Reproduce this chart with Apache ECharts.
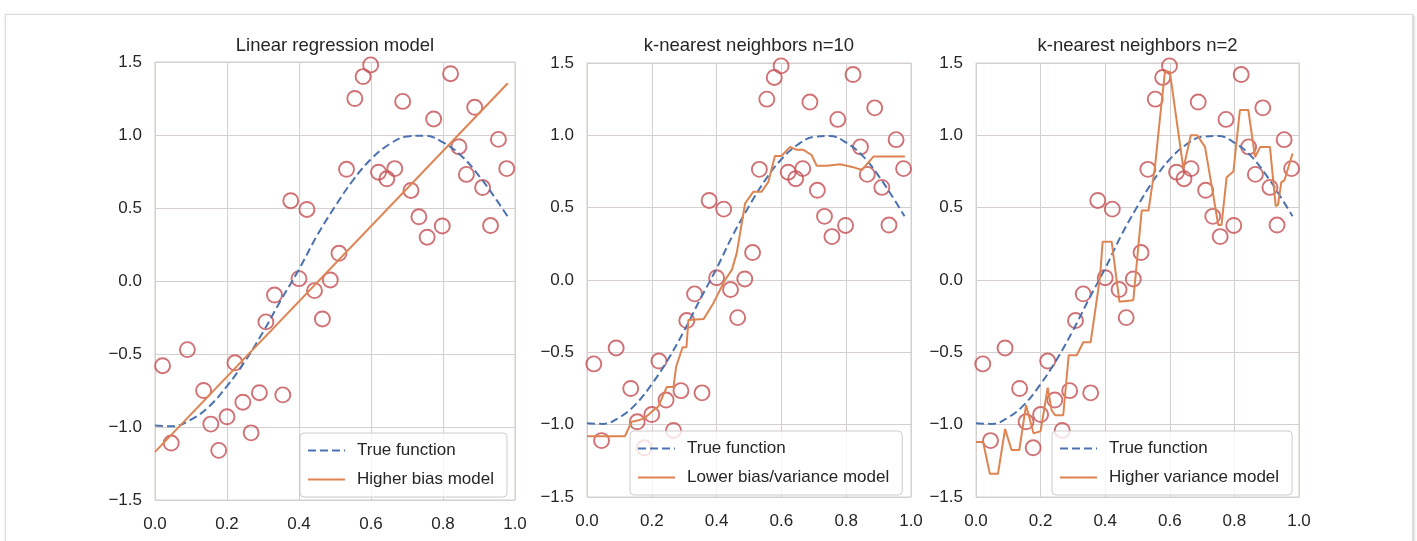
<!DOCTYPE html>
<html>
<head>
<meta charset="utf-8">
<script src="https://cdn.jsdelivr.net/npm/echarts@6/dist/echarts.min.js"></script>
<style>
  html, body { margin: 0; padding: 0; background: #ffffff; }
  #frame { position: absolute; left: 5px; top: 14px; width: 1406px; height: 600px;
           border: 1px solid #dedada; box-shadow: 1px 1px 3px rgba(0,0,0,0.22); background: #fff; }
  #chart { position: absolute; left: 0; top: 0; width: 1417px; height: 541px; }
</style>
</head>
<body>
<div id="frame"></div>
<div id="chart"></div>
<script>
// ---------------- data ----------------
const titles = ['Linear regression model', 'k-nearest neighbors n=10', 'k-nearest neighbors n=2'];
const modelNames = ['Higher bias model', 'Lower bias/variance model', 'Higher variance model'];
const trueName = 'True function';

const xTicks = [0.0, 0.2, 0.4, 0.6, 0.8, 1.0];
const yTicks = [-1.5, -1.0, -0.5, 0.0, 0.5, 1.0, 1.5];

// noisy samples (same in all three panels)
const sampleX = [0.021, 0.045, 0.090, 0.135, 0.155, 0.177, 0.200, 0.222, 0.244, 0.267,
                 0.290, 0.308, 0.332, 0.355, 0.377, 0.400, 0.422, 0.443, 0.465, 0.487,
                 0.511, 0.532, 0.555, 0.578, 0.599, 0.621, 0.644, 0.666, 0.688, 0.711,
                 0.733, 0.756, 0.774, 0.798, 0.821, 0.844, 0.865, 0.888, 0.910, 0.932,
                 0.954, 0.977];
const sampleY = [-0.58, -1.11, -0.47, -0.75, -0.98, -1.16, -0.93, -0.56, -0.83, -1.04,
                 -0.765, -0.28, -0.096, -0.78, 0.55, 0.016, 0.49, -0.066, -0.26, 0.007,
                 0.19, 0.765, 1.25, 1.40, 1.48, 0.745, 0.70, 0.77, 1.23, 0.62,
                 0.44, 0.30, 1.11, 0.377, 1.42, 0.92, 0.73, 1.19, 0.64, 0.38,
                 0.97, 0.77];

// true function (dashed)
const trueX = [0.0, 0.05, 0.1, 0.15, 0.2, 0.25, 0.3, 0.35, 0.4, 0.45, 0.5,
               0.55, 0.6, 0.65, 0.7, 0.75, 0.8, 0.85, 0.9, 0.95, 0.98];
const trueY = [-0.99, -0.995, -0.95, -0.86, -0.72, -0.55, -0.35, -0.13, 0.08, 0.31, 0.51,
               0.69, 0.835, 0.935, 0.99, 0.995, 0.95, 0.86, 0.72, 0.55, 0.44];

// linear regression fit
const linX = [0.0, 0.98];
const linY = [-1.17, 1.354];

// k-NN n=10 prediction
const knn10X = [0.0, 0.117, 0.138, 0.16, 0.18, 0.2, 0.22, 0.246, 0.267, 0.275, 0.295, 0.307,
                0.313, 0.36, 0.39, 0.426, 0.447, 0.462, 0.488, 0.513, 0.539, 0.56, 0.58,
                0.60, 0.627, 0.647, 0.668, 0.693, 0.709, 0.74, 0.781, 0.822, 0.848, 0.884, 0.981];
const knn10Y = [-1.08, -1.08, -0.98, -0.97, -0.95, -0.91, -0.875, -0.74, -0.74, -0.6, -0.465, -0.465,
                -0.276, -0.27, -0.16, 0.0, 0.07, 0.184, 0.53, 0.61, 0.61, 0.68, 0.857,
                0.857, 0.92, 0.90, 0.90, 0.864, 0.79, 0.79, 0.80, 0.78, 0.76, 0.853, 0.853];

// k-NN n=2 prediction
const knn2X = [0.0, 0.022, 0.043, 0.068, 0.09, 0.11, 0.134, 0.155, 0.178, 0.2, 0.222, 0.234,
               0.245, 0.27, 0.287, 0.312, 0.332, 0.355, 0.384, 0.392, 0.42, 0.444, 0.487,
               0.513, 0.534, 0.554, 0.57, 0.585, 0.6, 0.642, 0.665, 0.685, 0.709, 0.73,
               0.75, 0.76, 0.776, 0.797, 0.817, 0.843, 0.864, 0.88, 0.91, 0.928, 0.935,
               0.945, 0.955, 0.98];
const knn2Y = [-1.12, -1.12, -1.34, -1.34, -1.03, -1.175, -1.175, -0.865, -1.06, -1.045, -0.745, -0.9,
               -0.935, -0.935, -0.52, -0.52, -0.43, -0.43, 0.02, 0.265, 0.265, -0.15, -0.14,
               0.48, 0.48, 0.78, 1.13, 1.44, 1.44, 0.77, 1.0, 1.0, 0.92, 0.645,
               0.38, 0.38, 0.71, 0.75, 1.175, 1.175, 0.85, 0.92, 0.92, 0.51, 0.52,
               0.675, 0.69, 0.875];

// ---------------- build ----------------
const zip = (xs, ys) => xs.map((x, i) => [x, ys[i]]);
const modelLines = [zip(linX, linY), zip(knn10X, knn10Y), zip(knn2X, knn2Y)];

const FONT = '"Liberation Sans", Arial, sans-serif';
const TXT = '#262626';
const GRIDC = '#d5cfcf';
const BLUE = '#4c72b0', ORANGE = '#dd8452', RED = '#c44e52';

const grids = [
  { left: 155, top: 62, width: 360, height: 438 },
  { left: 587, top: 63, width: 324, height: 434 },
  { left: 976, top: 63, width: 323, height: 434 }
];
const legendPos = [
  { left: 300, top: 433 },
  { left: 630, top: 431 },
  { left: 1052, top: 431 }
];

const fmt = v => (v < 0 ? '\u2212' : '') + Math.abs(v).toFixed(1);

const option = {
  animation: false,
  backgroundColor: 'transparent',
  grid: grids.map(g => Object.assign({ show: true, borderColor: GRIDC, borderWidth: 1, backgroundColor: 'transparent' }, g)),
  xAxis: grids.map((g, i) => ({
    gridIndex: i, type: 'value',
    min: xTicks[0], max: xTicks[xTicks.length - 1], interval: 0.2,
    axisLine: { show: false }, axisTick: { show: false },
    splitLine: { show: true, lineStyle: { color: GRIDC, width: 1 } },
    axisLabel: { fontSize: 17, fontFamily: FONT, color: TXT, margin: 16, formatter: fmt }
  })),
  yAxis: grids.map((g, i) => ({
    gridIndex: i, type: 'value',
    min: yTicks[0], max: yTicks[yTicks.length - 1], interval: 0.5,
    axisLine: { show: false }, axisTick: { show: false },
    splitLine: { show: true, lineStyle: { color: GRIDC, width: 1 } },
    axisLabel: { fontSize: 17, fontFamily: FONT, color: TXT, margin: 13, formatter: fmt }
  })),
  legend: legendPos.map((p, i) => ({
    left: p.left, top: p.top, orient: 'vertical',
    data: [trueName, modelNames[i]],
    itemWidth: 37, itemHeight: 14, itemGap: 12,
    padding: [9, 13, 9, 7],
    backgroundColor: 'rgba(255,255,255,0.8)',
    borderColor: '#cfcaca', borderWidth: 1, borderRadius: 4,
    itemStyle: { opacity: 0 },
    textStyle: { fontSize: 17, fontFamily: FONT, color: TXT, padding: [0, 0, 0, 7] },
    selectedMode: false
  })),
  graphic: titles.map((t, i) => ({
    type: 'text',
    x: grids[i].left + grids[i].width / 2,
    y: 46,
    style: {
      text: t, fontSize: 18.5, fontFamily: FONT, fill: TXT,
      textAlign: 'center', textVerticalAlign: 'middle', align: 'center', verticalAlign: 'middle'
    }
  })),
  series: []
};

for (let i = 0; i < 3; i++) {
  option.series.push({
    name: trueName, type: 'line', xAxisIndex: i, yAxisIndex: i,
    data: zip(trueX, trueY), smooth: 0.4, symbol: 'none',
    lineStyle: { color: BLUE, width: 2, type: [8, 4] }, itemStyle: { color: BLUE }
  });
  option.series.push({
    name: modelNames[i], type: 'line', xAxisIndex: i, yAxisIndex: i,
    data: modelLines[i], symbol: 'none',
    lineStyle: { color: ORANGE, width: 2 }, itemStyle: { color: ORANGE }
  });
  option.series.push({
    name: 'Samples', type: 'scatter', xAxisIndex: i, yAxisIndex: i,
    data: zip(sampleX, sampleY), symbol: 'circle', symbolSize: 15,
    itemStyle: { color: 'rgba(0,0,0,0)', borderColor: RED, borderWidth: 1.9 },
    clip: true
  });
}

const chart = echarts.init(document.getElementById('chart'), null, { renderer: 'canvas' });
chart.setOption(option);
</script>
</body>
</html>
